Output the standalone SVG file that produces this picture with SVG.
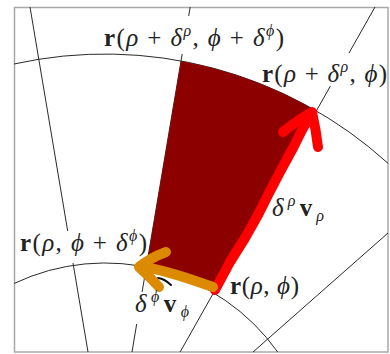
<svg xmlns="http://www.w3.org/2000/svg" width="390" height="354" viewBox="0 0 390 354">
<style>
.grid{fill:none;stroke:#2a2a2a;stroke-width:1}
.frame{fill:none;stroke:#a8a8a8;stroke-width:1.5}
.lbl{font-family:"Liberation Serif","DejaVu Serif",serif;font-size:25px;fill:#222}
.b{font-weight:bold}
.g{font-style:italic}
.sup{font-size:16px;font-style:italic}
</style>
<rect x="0" y="0" width="390" height="354" fill="#fff"/>
<g id="grid">
<rect class="frame" x="14.5" y="7.5" width="373.5" height="344.5"/>
<path class="grid" d="M14,64 A421,421 0 0,1 388,163.3"/>
<path class="grid" d="M14,283.5 A212,212 0 0,1 277.7,352"/>
<path class="grid" d="M30,7 L67.7,231 M73,263 L88,352"/>
<path class="grid" d="M190.2,7 L188.7,16 M182.2,54 L142.1,292 M136.7,324 L132,352"/>
<path class="grid" d="M375,7 L349,53 M330.4,86 L180.1,352"/>
<path class="grid" d="M388,233 L253,352"/>
</g>
<g id="region">
<path d="M181,61 A421,421 0 0,1 316.3,110.8 L213.5,293 A212,212 0 0,0 146.3,267 Z" fill="#8c0000"/>
</g>
<g id="connectors" fill="none" stroke-linecap="round" stroke-linejoin="round">
<path d="M158,278 Q165,279 171,285" stroke="#111" stroke-width="2"/>
<path d="M215,290 L230,262 L245,238 L258,215 L268,195 L280,172 L293,148 L302,130 L312,113" stroke="#ff0000" stroke-width="10"/>
<path d="M283,132 Q298,120 312,112 Q316,130 318,147" stroke="#ff0000" stroke-width="10"/>
<path d="M213,287 C195,281 170,271 140,266" stroke="#dc8a00" stroke-width="10"/>
<path d="M166,252 Q150,258 139,267 Q150,277 159,287" stroke="#dc8a00" stroke-width="10"/>
</g>
<g id="label-r-rho-drho-phi-dphi">
<text class="lbl" x="104" y="46" textLength="180" lengthAdjust="spacing"><tspan class="b">r</tspan>(<tspan class="g">ρ</tspan> + <tspan class="g">δ</tspan><tspan class="sup" dy="-10">ρ</tspan><tspan dy="10">, </tspan><tspan class="g">ϕ</tspan> + <tspan class="g">δ</tspan><tspan class="sup" dy="-10">ϕ</tspan><tspan dy="10">)</tspan></text>
</g>
<g id="label-r-rho-drho-phi">
<text class="lbl" x="262" y="82" textLength="125" lengthAdjust="spacing"><tspan class="b">r</tspan>(<tspan class="g">ρ</tspan> + <tspan class="g">δ</tspan><tspan class="sup" dy="-10">ρ</tspan><tspan dy="10">, </tspan><tspan class="g">ϕ</tspan>)</text>
</g>
<g id="label-drho-vrho">
<text class="lbl" x="272" y="216" textLength="52" lengthAdjust="spacing"><tspan class="g">δ</tspan><tspan class="sup" dy="-10">ρ</tspan><tspan class="b" dy="10">v</tspan><tspan class="sup" dy="5">ρ</tspan></text>
</g>
<g id="label-r-rho-phi-dphi">
<text class="lbl" x="20" y="251" textLength="127" lengthAdjust="spacing"><tspan class="b">r</tspan>(<tspan class="g">ρ</tspan>, <tspan class="g">ϕ</tspan> + <tspan class="g">δ</tspan><tspan class="sup" dy="-10">ϕ</tspan><tspan dy="10">)</tspan></text>
</g>
<g id="label-r-rho-phi">
<text class="lbl" x="230" y="294" textLength="69" lengthAdjust="spacing"><tspan class="b">r</tspan>(<tspan class="g">ρ</tspan>, <tspan class="g">ϕ</tspan>)</text>
</g>
<g id="label-dphi-vphi">
<text class="lbl" x="135" y="312" textLength="54" lengthAdjust="spacing"><tspan class="g">δ</tspan><tspan class="sup" dy="-10">ϕ</tspan><tspan class="b" dy="10">v</tspan><tspan class="sup" dy="5">ϕ</tspan></text>
</g>
</svg>
